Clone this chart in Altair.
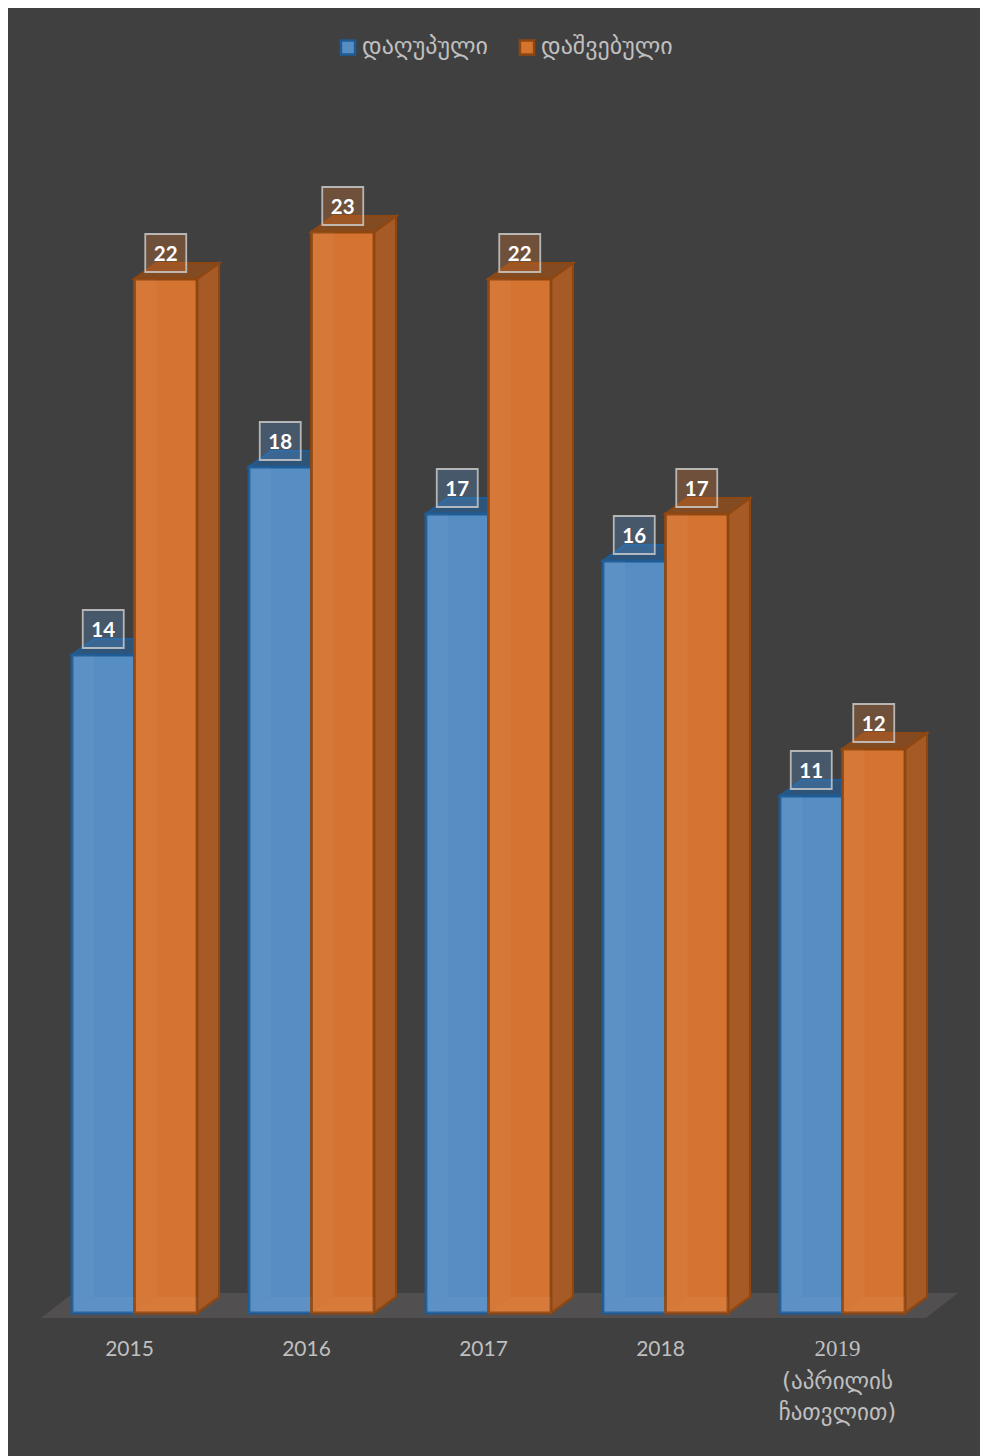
import altair as alt
import pandas as pd

# ---- values ----
YEARS = ["2015", "2016", "2017", "2018"]
LAST_YEAR = "2019"
LAST_NOTE = ["(აპრილის", "ჩათვლით)"]
SERIES = ["დაღუპული", "დაშვებული"]
DEAD = [14, 18, 17, 16, 11]
LANDED = [22, 23, 22, 17, 12]

# ---- layout helpers: pixels per data unit ----
W, H = 972, 1448
PX, PY = 177.0, 47.0     # one category / one value unit in pixels
X0, Y0 = 33.0, 1305.0    # pixel position of x=0 and y=0 inside the view
DX, DY = 22 / PX, 16 / PY   # depth of the fake 3D
BAR = 62.5 / PX
SHIFT = 5 / PX
FRONT = {SERIES[0]: "#568dc3", SERIES[1]: "#d57431"}
EDGE = {SERIES[0]: "#1f5c96", SERIES[1]: "#8f4712"}
SIDE = {SERIES[0]: "#3a6f9f", SERIES[1]: "#a65b27"}
TOP = {SERIES[0]: "#2c5880", SERIES[1]: "#8b4c1f"}
FONT = "Lato"
GEO = "DejaVu Sans"

xs = alt.Scale(domain=[-X0 / PX, (W - X0) / PX], range=[0, W], nice=False, zero=False)
ys = alt.Scale(domain=[(Y0 - H) / PY, Y0 / PY], range=[H, 0], nice=False, zero=False)
X = lambda f="x": alt.X(f"{f}:Q", scale=xs, axis=None)
Y = lambda f="y": alt.Y(f"{f}:Q", scale=ys, axis=None)

front, side, topf, left_in, bot_in, boxes = [], [], [], [], [], []
for s_i, (name, vals) in enumerate(zip(SERIES, (DEAD, LANDED))):
    for i, v in enumerate(vals):
        l = i + 0.5 + SHIFT + (s_i - 1) * BAR
        r = l + BAR
        k = f"{name}{i}"
        front.append(dict(series=name, x=l, x2=r, y=0, y2=v))
        side += [dict(k=k, series=name, x=r, y=0, y2=v), dict(k=k, series=name, x=r + DX, y=DY, y2=v + DY)]
        topf += [dict(k=k, series=name, y=v, x=l, x2=r), dict(k=k, series=name, y=v + DY, x=l + DX, x2=r + DX)]
        left_in += [dict(k=k, x=l, y=0, y2=v), dict(k=k, x=l + DX, y=DY, y2=v)]
        bot_in += [dict(k=k, y=0, x=l, x2=r), dict(k=k, y=DY, x=l + DX, x2=r)]
        cx, cy = (l + r) / 2, v + 26 / PY
        boxes.append(dict(series=name, label=str(v), cx=cx, cy=cy - 1.5 / PY,
                          x=cx - 20.5 / PX, x2=cx + 20.5 / PX, y=cy - 19 / PY, y2=cy + 19 / PY))
front, side, topf, left_in, bot_in, boxes = map(pd.DataFrame, (front, side, topf, left_in, bot_in, boxes))

n = len(DEAD)
floor = pd.DataFrame([dict(y=-5 / PY, x=0, x2=n), dict(y=20 / PY, x=32 / PX, x2=n + 32 / PX)])


def scale_of(d):
    return alt.Scale(domain=SERIES, range=[d[s] for s in SERIES])


floor_l = alt.Chart(floor).mark_area(orient="horizontal", color="#514f4f").encode(
    x=X(), x2="x2:Q", y=Y())


def faces(name):
    fs = front[front.series == name]
    parts = [
        alt.Chart(side[side.series == name]).mark_area(
            stroke=EDGE[name], strokeWidth=2.2, fill=SIDE[name]).encode(
            x=X(), y=Y(), y2="y2:Q", detail="k:N"),
        alt.Chart(topf[topf.series == name]).mark_area(
            orient="horizontal", stroke=EDGE[name], strokeWidth=2.2, fill=TOP[name], fillOpacity=0.9).encode(
            x=X(), x2="x2:Q", y=Y(), detail="k:N"),
        alt.Chart(fs).mark_rect(strokeWidth=2.8).encode(
            x=X(), x2="x2:Q", y=Y(), y2="y2:Q",
            fill=alt.Fill("series:N", scale=scale_of(FRONT), legend=alt.Legend(
                title=None, orient="none", legendX=328, legendY=27, direction="horizontal",
                symbolType="square", symbolSize=200, symbolStrokeWidth=2.5, labelFont=GEO,
                labelFontSize=24, labelColor="#bfbfbf", columnPadding=26, labelOffset=2)),
            stroke=alt.Stroke("series:N", scale=scale_of(EDGE), legend=None)),
    ]
    return parts


inner_left = alt.Chart(left_in).mark_area(fill="white", fillOpacity=0.035).encode(
    x=X(), y=Y(), y2="y2:Q", detail="k:N")
inner_bot = alt.Chart(bot_in).mark_area(orient="horizontal", fill="white", fillOpacity=0.05).encode(
    x=X(), x2="x2:Q", y=Y(), detail="k:N")

box_layers = [
    alt.Chart(boxes[boxes.series == s]).mark_rect(
        fill=FRONT[s], fillOpacity=0.32, stroke="#c9c9c9", strokeOpacity=0.85, strokeWidth=1.8).encode(
        x=X(), x2="x2:Q", y=Y(), y2="y2:Q")
    for s in SERIES
]
box_t = alt.Chart(boxes).mark_text(font=FONT, fontSize=20.5, fontWeight="bold", color="white").encode(
    x=X("cx"), y=Y("cy"), text="label:N")

yr = pd.DataFrame(dict(x=[i + 0.5 for i in range(len(YEARS))], y=[-36.5 / PY] * len(YEARS), t=YEARS))
yr_l = alt.Chart(yr).mark_text(font=FONT, fontSize=21, color="#bfbfbf").encode(x=X(), y=Y(), text="t:N")
last = pd.DataFrame(dict(x=[n - 0.5], y=[-36 / PY], t=[LAST_YEAR]))
last_l = alt.Chart(last).mark_text(font="Liberation Serif", fontSize=23, color="#bfbfbf").encode(
    x=X(), y=Y(), text="t:N")
note = pd.DataFrame(dict(x=[n - 0.5] * 2, y=[-69 / PY, -100 / PY], t=LAST_NOTE))
note_l = alt.Chart(note).mark_text(font=GEO, fontSize=23, color="#bfbfbf").encode(x=X(), y=Y(), text="t:N")

chart = alt.layer(
    floor_l, *faces(SERIES[0]), *faces(SERIES[1]), inner_left, inner_bot,
    *box_layers, box_t, yr_l, last_l, note_l,
).resolve_scale(fill="shared", stroke="shared").properties(
    width=W, height=H, background="#404040", padding=0,
    autosize=alt.AutoSizeParams(type="none"),
).configure_view(stroke=None)

chart.save("out.html", embed_options={"renderer": "svg", "actions": False})
